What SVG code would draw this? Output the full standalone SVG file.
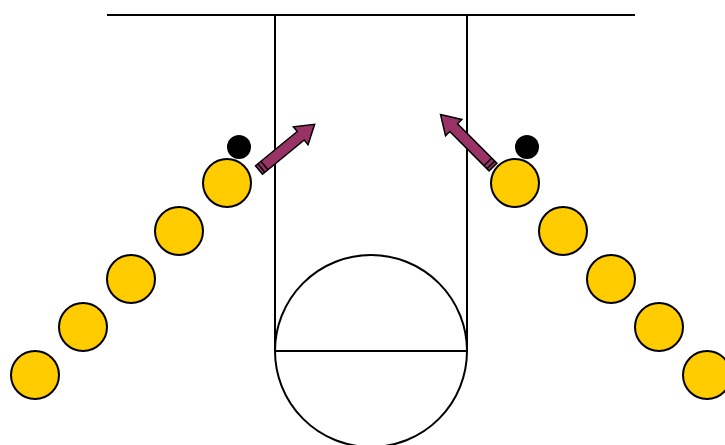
<svg xmlns="http://www.w3.org/2000/svg" width="725" height="445" viewBox="0 0 725 445">
<style>
.ln{stroke:#000;stroke-width:2;fill:none}
.pl{fill:#ffcc00;stroke:#000;stroke-width:2}
.bl{fill:#000}
.ar{fill:#993366;stroke:#000;stroke-width:1.5;stroke-linejoin:miter}
.tb{stroke:#000;stroke-width:1.5}
</style>
<defs>
<g id="arrow">
<polygon class="ar" points="0,-5.5 54,-5.5 54,-11.5 72,0 54,11.5 54,5.5 0,5.5"/>
<line class="tb" x1="3" y1="-5.5" x2="3" y2="5.5"/>
<line class="tb" x1="7" y1="-5.5" x2="7" y2="5.5"/>
</g>
</defs>
<g id="court">
<line class="ln" x1="107" y1="15" x2="635" y2="15"/>
<line class="ln" x1="275" y1="15" x2="275" y2="351"/>
<line class="ln" x1="467" y1="15" x2="467" y2="351"/>
<line class="ln" x1="275" y1="351" x2="467" y2="351"/>
<circle class="ln" cx="371" cy="351" r="96"/>
</g>
<g id="left-players">
<circle class="pl" cx="35" cy="375" r="24"/>
<circle class="pl" cx="83" cy="327" r="24"/>
<circle class="pl" cx="131" cy="279" r="24"/>
<circle class="pl" cx="179" cy="231" r="24"/>
<circle class="pl" cx="227" cy="183" r="24"/>
<circle class="bl" cx="239" cy="147" r="12"/>
</g>
<g id="right-players">
<circle class="pl" cx="515" cy="183" r="24"/>
<circle class="pl" cx="563" cy="231" r="24"/>
<circle class="pl" cx="611" cy="279" r="24"/>
<circle class="pl" cx="659" cy="327" r="24"/>
<circle class="pl" cx="707" cy="375" r="24"/>
<circle class="bl" cx="527" cy="147" r="12"/>
</g>
<g id="connectors">
<use href="#arrow" transform="translate(259,170) rotate(-39.4)"/>
<use href="#arrow" transform="translate(493,167) rotate(-135) scale(1.03,1)"/>
</g>
</svg>
